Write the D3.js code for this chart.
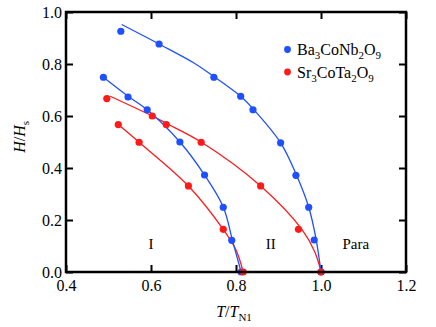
<!DOCTYPE html>
<html>
<head>
<meta charset="utf-8">
<script src="https://cdn.jsdelivr.net/npm/d3@7"></script>
<style>
  html, body { margin: 0; padding: 0; background: #fff; }
  svg { display: block; }
  svg text { font-family: "Liberation Serif", "Times New Roman", Tinos, "DejaVu Serif", serif !important; fill: #000; }
</style>
</head>
<body>
<svg id="chart" width="436" height="327"></svg>
<script>
// ---- Data ----
const xTicks = [0.4, 0.6, 0.8, 1.0, 1.2];
const yTicks = [0.0, 0.2, 0.4, 0.6, 0.8, 1.0];

// Ba3CoNb2O9 measured points [T/TN1, H/Hs]
const baUpperT = [0.529, 0.619, 0.748, 0.811, 0.840, 0.905, 0.941, 0.971, 0.984, 1.000];
const baUpperH = [0.926, 0.877, 0.749, 0.676, 0.624, 0.497, 0.372, 0.249, 0.123, 0.000];
const baLowerT = [0.488, 0.546, 0.591, 0.668, 0.726, 0.770, 0.790, 0.812];
const baLowerH = [0.749, 0.673, 0.624, 0.500, 0.373, 0.249, 0.122, 0.000];

// Sr3CoTa2O9 measured points
const srUpperT = [0.496, 0.603, 0.636, 0.718, 0.858, 0.947, 1.000];
const srUpperH = [0.667, 0.600, 0.567, 0.499, 0.331, 0.164, 0.000];
const srLowerT = [0.523, 0.572, 0.688, 0.770, 0.817];
const srLowerH = [0.567, 0.499, 0.331, 0.164, 0.000];

// Fitted guide curves
const baUpperFitT = [0.531, 0.619, 0.700, 0.748, 0.811, 0.840, 0.905, 0.941, 0.971, 0.988, 1.000];
const baUpperFitH = [0.952, 0.877, 0.805, 0.752, 0.676, 0.628, 0.497, 0.378, 0.250, 0.130, 0.000];
const baLowerFitT = [0.488, 0.546, 0.591, 0.668, 0.726, 0.770, 0.792, 0.812];
const baLowerFitH = [0.749, 0.676, 0.624, 0.500, 0.373, 0.250, 0.120, 0.000];
const srUpperFitT = [0.504, 0.603, 0.636, 0.718, 0.858, 0.955, 0.986, 1.000];
const srUpperFitH = [0.676, 0.600, 0.572, 0.500, 0.331, 0.164, 0.075, 0.000];
const srLowerFitT = [0.523, 0.572, 0.688, 0.770, 0.800, 0.817];
const srLowerFitH = [0.567, 0.499, 0.331, 0.164, 0.085, 0.000];

const phaseLabels = [
  { text: "I", T: 0.600, H: 0.09 },
  { text: "II", T: 0.882, H: 0.09 },
  { text: "Para", T: 1.082, H: 0.09 }
];

const blue = "#1f50ff";
const red = "#ff1a1a";
const serif = '"Liberation Serif", "Times New Roman", Tinos, "DejaVu Serif", serif';

// ---- Layout ----
const svg = d3.select("#chart");
const margin = { left: 66, right: 30, top: 12, bottom: 55 };
const W = 436, H = 327;
const x = d3.scaleLinear().domain([0.4, 1.2]).range([margin.left, W - margin.right]);
const y = d3.scaleLinear().domain([0, 1]).range([H - margin.bottom, margin.top]);

const zip = (a, b) => a.map((v, i) => [v, b[i]]);

// axes
const fmt = d3.format(".1f");
const tickLen = 7;
function styleAxis(g) {
  g.attr("font-family", null).attr("font-size", null);
  g.select(".domain").remove();
  g.selectAll(".tick line").attr("stroke", "#000").attr("stroke-width", 2);
  g.selectAll(".tick text").style("font-size", "16px").style("font-family", serif);
}
svg.append("g").attr("transform", `translate(0,${y(0)})`)
  .call(d3.axisBottom(x).tickValues(xTicks).tickFormat(fmt).tickSize(-tickLen).tickPadding(8))
  .call(styleAxis);
svg.append("g").attr("transform", `translate(0,${y(1)})`)
  .call(d3.axisTop(x).tickValues(xTicks).tickFormat("").tickSize(-tickLen))
  .call(styleAxis);
svg.append("g").attr("transform", `translate(${x(0.4)},0)`)
  .call(d3.axisLeft(y).tickValues(yTicks).tickFormat(fmt).tickSize(-tickLen).tickPadding(4))
  .call(styleAxis);
svg.append("g").attr("transform", `translate(${x(1.2)},0)`)
  .call(d3.axisRight(y).tickValues(yTicks).tickFormat("").tickSize(-tickLen))
  .call(styleAxis);

// curves
const line = d3.line().x(d => x(d[0])).y(d => y(d[1])).curve(d3.curveCatmullRom.alpha(0.5));
const curves = [
  { t: srLowerFitT, h: srLowerFitH, c: red },
  { t: srUpperFitT, h: srUpperFitH, c: red },
  { t: baLowerFitT, h: baLowerFitH, c: blue },
  { t: baUpperFitT, h: baUpperFitH, c: blue }
];
svg.append("g").selectAll("path").data(curves).join("path")
  .attr("d", d => line(zip(d.t, d.h)))
  .attr("fill", "none").attr("stroke", d => d.c).attr("stroke-width", 1.3);

// points
const series = [
  { t: baUpperT, h: baUpperH, c: blue },
  { t: baLowerT, h: baLowerH, c: blue },
  { t: srUpperT, h: srUpperH, c: red },
  { t: srLowerT, h: srLowerH, c: red }
];
series.forEach(s => {
  svg.append("g").selectAll("circle").data(zip(s.t, s.h)).join("circle")
    .attr("cx", d => x(d[0])).attr("cy", d => y(d[1])).attr("r", 3.6).attr("fill", s.c);
});

// frame
svg.append("rect")
  .attr("x", x(0.4)).attr("y", y(1))
  .attr("width", x(1.2) - x(0.4)).attr("height", y(0) - y(1))
  .attr("fill", "none").attr("stroke", "#000").attr("stroke-width", 2.5);

// phase labels
svg.append("g").selectAll("text").data(phaseLabels).join("text")
  .attr("x", d => x(d.T)).attr("y", d => y(d.H))
  .attr("text-anchor", "middle").style("font-family", serif).style("font-size", "15px").text(d => d.text);

// legend
const legend = [
  { parts: [["Ba", 0], ["3", 1], ["CoNb", 0], ["2", 1], ["O", 0], ["9", 1]], c: blue },
  { parts: [["Sr", 0], ["3", 1], ["CoTa", 0], ["2", 1], ["O", 0], ["9", 1]], c: red }
];
legend.forEach((L, i) => {
  const yy = 55 + i * 22.5;
  svg.append("circle").attr("cx", 287.5).attr("cy", yy - 5.5).attr("r", 3.4).attr("fill", L.c);
  const t = svg.append("text").attr("x", 297).attr("y", yy)
    .style("font-family", serif).style("font-size", "16px");
  L.parts.forEach(([s, sub], k) => {
    t.append("tspan").text(s)
      .attr("dy", sub ? 4 : (k > 0 ? -4 : 0))
      .style("font-size", sub ? "11px" : "16px");
  });
});

// axis titles
const yl = svg.append("text")
  .attr("transform", `translate(25,${y(0.52)}) rotate(-90)`)
  .attr("text-anchor", "middle").style("font-family", serif).style("font-size", "16px");
yl.append("tspan").text("H").style("font-style", "italic");
yl.append("tspan").text("/");
yl.append("tspan").text("H").style("font-style", "italic");
yl.append("tspan").text("s").attr("dy", 4).style("font-size", "11px");

const xl = svg.append("text")
  .attr("x", x(0.8) - 2).attr("y", 317)
  .attr("text-anchor", "middle").style("font-family", serif).style("font-size", "16px");
xl.append("tspan").text("T").style("font-style", "italic");
xl.append("tspan").text("/");
xl.append("tspan").text("T").style("font-style", "italic");
xl.append("tspan").text("N1").attr("dy", 4).style("font-size", "11px");
</script>
</body>
</html>
